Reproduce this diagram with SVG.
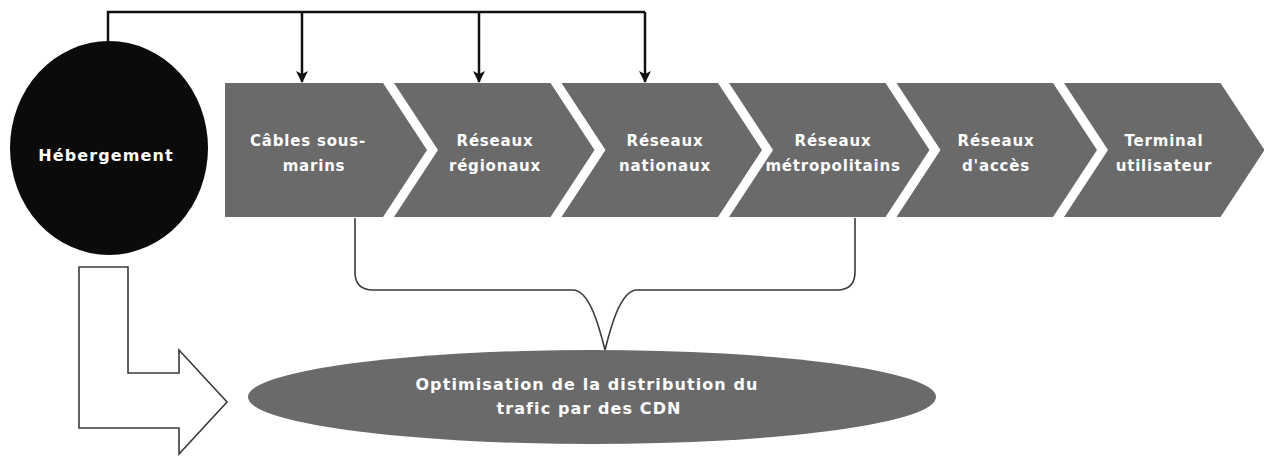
<svg xmlns="http://www.w3.org/2000/svg" width="1264" height="456" viewBox="0 0 1264 456">
  <style>
    .stage { fill: #6a6a6a; }
    .lbl { font-family: "DejaVu Sans", "Liberation Sans", sans-serif; font-weight: bold; font-size: 15px; fill: #ffffff; text-anchor: middle; letter-spacing: 0.8px; }
    .big { font-size: 16px; letter-spacing: 1.1px; }
    .feed { fill: none; stroke: #111111; stroke-width: 2.5; }
    .brace { fill: none; stroke: #3a3a3a; stroke-width: 1.6; }
    .outline { fill: #ffffff; stroke: #3a3a3a; stroke-width: 1.6; stroke-linejoin: miter; }
  </style>
  <defs>
    <marker id="head" viewBox="0 0 12 12" refX="11" refY="6" markerWidth="12" markerHeight="12" markerUnits="userSpaceOnUse" orient="auto">
      <path d="M0,0 L12,6 L0,12 L3,6 Z" fill="#111111"/>
    </marker>
  </defs>

  <rect width="1264" height="456" fill="#ffffff"/>

  <!-- connectors: hosting feed lines, brace, L-shaped block arrow -->
  <g id="connectors">
    <path class="feed" d="M108,41 L108,12 L645,12"/>
    <path class="feed" d="M302,12 L302,82" marker-end="url(#head)"/>
    <path class="feed" d="M479,12 L479,82" marker-end="url(#head)"/>
    <path class="feed" d="M645,12 L645,82" marker-end="url(#head)"/>
    <path class="brace" d="M355,218 L355,272 Q355,290 373,290 L573,290 C590,290 600,330 605,350 C610,330 620,290 637,290 L837,290 Q855,290 855,272 L855,218"/>
    <path class="outline" d="M79,267 L128,267 L128,373 L179,373 L179,350 L227,402 L179,454 L179,428 L79,428 Z"/>
  </g>

  <g id="hebergement">
    <ellipse cx="109" cy="148" rx="99" ry="107" fill="#0b0b0b"/>
    <text class="lbl big" x="106" y="161">Hébergement</text>
  </g>

  <g id="cables">
    <path class="stage" d="M225,83 L383,83 L427,150 L383,217 L225,217 Z"/>
    <text class="lbl" x="308" y="146">Câbles sous-</text>
    <text class="lbl" x="314" y="171">marins</text>
  </g>

  <g id="regionaux">
    <path class="stage" d="M394,83 L550.5,83 L594.5,150 L550.5,217 L394,217 L438,150 Z"/>
    <text class="lbl" x="495" y="146">Réseaux</text>
    <text class="lbl" x="495" y="171">régionaux</text>
  </g>

  <g id="nationaux">
    <path class="stage" d="M561.5,83 L718,83 L762,150 L718,217 L561.5,217 L605.5,150 Z"/>
    <text class="lbl" x="665" y="146">Réseaux</text>
    <text class="lbl" x="665" y="171">nationaux</text>
  </g>

  <g id="metropolitains">
    <path class="stage" d="M729,83 L885.5,83 L929.5,150 L885.5,217 L729,217 L773,150 Z"/>
    <text class="lbl" x="833" y="146">Réseaux</text>
    <text class="lbl" x="833" y="171">métropolitains</text>
  </g>

  <g id="acces">
    <path class="stage" d="M896.5,83 L1053,83 L1097,150 L1053,217 L896.5,217 L940.5,150 Z"/>
    <text class="lbl" x="996" y="146">Réseaux</text>
    <text class="lbl" x="996" y="171">d'accès</text>
  </g>

  <g id="terminal">
    <path class="stage" d="M1064,83 L1220.5,83 L1264.5,150 L1220.5,217 L1064,217 L1108,150 Z"/>
    <text class="lbl" x="1164" y="146">Terminal</text>
    <text class="lbl" x="1164" y="171">utilisateur</text>
  </g>

  <g id="optimisation">
    <ellipse class="stage" cx="592" cy="397" rx="344" ry="47"/>
    <text class="lbl big" x="587" y="390">Optimisation de la distribution du</text>
    <text class="lbl big" x="589" y="414">trafic par des CDN</text>
  </g>
</svg>
